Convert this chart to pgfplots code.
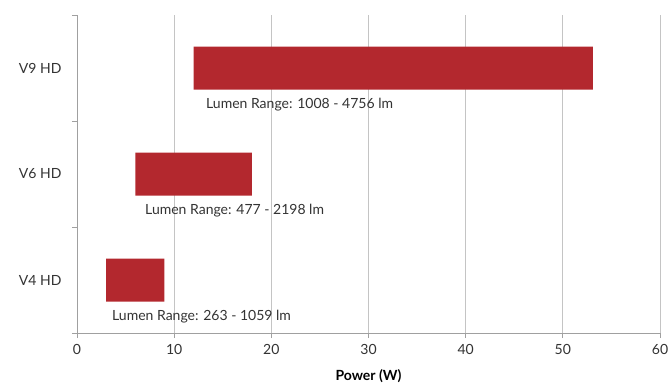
\documentclass[border=0pt]{standalone}
\usepackage{pgfplots}
\pgfplotsset{compat=1.18}
\usepackage{fontspec}
\setmainfont{Lato}
\definecolor{barred}{HTML}{B3282E}
\definecolor{axgray}{HTML}{A0A0A0}
\definecolor{gridgray}{HTML}{C4C4C4}
\definecolor{txt}{HTML}{333333}
\begin{document}
\begin{tikzpicture}[font=\fontsize{14}{16}\selectfont]
\path[use as bounding box] (-77pt,-51pt) rectangle (593pt,333pt);
\begin{axis}[
  scale only axis, width=583pt, height=318pt,
  xmin=0, xmax=60, ymin=0.5, ymax=3.5,
  xbar stacked, bar width=43pt,
  xtick={0,10,...,60},
  ytick={1,2,3}, yticklabels={V4 HD,V6 HD,V9 HD},
  axis x line*=bottom, axis y line*=left,
  axis line style={axgray, line width=0.8pt, -},
  xmajorgrids, grid style={gridgray, line width=0.8pt},
  tick align=outside, major tick length=5pt,
  tick style={axgray, line width=0.8pt},
  ytick style={draw=none},
  extra y ticks={0.5,1.5,2.5,3.5}, extra y tick labels={},
  extra y tick style={ytick style={draw=axgray}},
  /pgf/number format/assume math mode=true,
  ticklabel style={text=txt, font=\fontsize{14}{16}\selectfont},
  yticklabel style={xshift=-7pt},
  xticklabel style={yshift=-3pt},
  xlabel={\bfseries Power (W)},
  xlabel style={text=black, font=\fontsize{14}{16}\selectfont\bfseries,
    at={(axis description cs:0.5,0)}, anchor=center, yshift=-43pt},
  clip=false,
]
\addplot[draw=none, fill=none] coordinates {(3,1) (6,2) (12,3)};
\addplot[fill=barred, draw=none] coordinates {(6,1) (12,2) (41.1,3)};
\node[anchor=west, inner sep=0pt, text=txt] at (axis cs:13.27,2.655) {Lumen Range: 1008 - 4756 lm};
\node[anchor=west, inner sep=0pt, text=txt] at (axis cs:7.0,1.655) {Lumen Range: 477 - 2198 lm};
\node[anchor=west, inner sep=0pt, text=txt] at (axis cs:3.6,0.655) {Lumen Range: 263 - 1059 lm};
\end{axis}
\end{tikzpicture}
\end{document}
